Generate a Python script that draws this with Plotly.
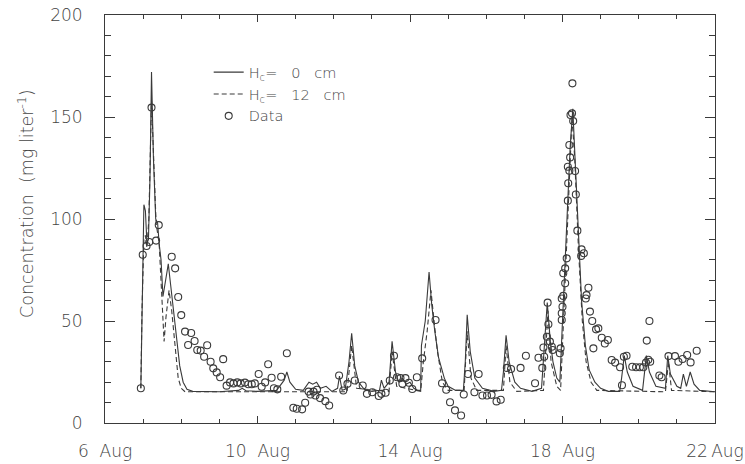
import plotly.graph_objects as go

# ---- model, H_c = 0 cm (solid) ----
solid_day = [6.94, 6.97, 7.02, 7.06, 7.10, 7.14, 7.18, 7.22, 7.27, 7.33, 7.38, 7.42, 7.47, 7.52,
             7.60, 7.66, 7.72, 7.80, 7.88, 7.96, 8.05, 8.15, 8.30, 9.00, 9.50, 9.60, 9.70, 10.0,
             10.5, 10.70, 10.77, 10.85, 11.0, 11.2, 11.35, 11.45, 11.55, 11.65, 11.8, 11.95,
             12.10, 12.15, 12.22, 12.30, 12.40, 12.47, 12.55, 12.65, 12.80, 13.0, 13.2, 13.25,
             13.32, 13.45, 13.53, 13.62, 13.70, 13.80, 13.90, 14.0, 14.1, 14.2, 14.28, 14.30,
             14.40, 14.50, 14.57, 14.65, 14.75, 14.90, 15.0, 15.2, 15.4, 15.45, 15.50, 15.58,
             15.70, 15.90, 16.2, 16.4, 16.45, 16.52, 16.60, 16.75, 16.90, 17.2, 17.45, 17.52,
             17.60, 17.68, 17.75, 17.85, 17.93, 18.0, 18.1, 18.2, 18.27, 18.33, 18.42, 18.5,
             18.6, 18.7, 18.85, 19.0, 19.2, 19.5, 19.55, 19.62, 19.70, 19.85, 20.1, 20.15, 20.2,
             20.28, 20.45, 20.70, 20.76, 20.83, 21.0, 21.1, 21.17, 21.25, 21.35, 21.45, 21.6, 22.0]
solid_val = [17, 60, 107, 104, 88, 90, 120, 172, 130, 100, 98, 88, 80, 62,
             70, 78, 68, 55, 42, 28, 20, 16.5, 15.5, 15.3, 16, 17, 15.8, 15.5,
             16, 21, 25, 20, 16.5, 16, 20, 19, 20, 17, 18, 15.5,
             17, 23, 16, 16.5, 30, 44, 28, 20, 16.5, 15.5, 16, 21,
             17, 20, 40, 25, 20, 22, 19, 20, 17, 16, 16, 38,
             50, 74, 58, 45, 32, 22, 18, 16, 16, 30, 53, 35,
             22, 17, 15.5, 16, 25, 43, 30, 20, 17, 15.5, 17, 35,
             59, 40, 30, 22, 20, 50, 90, 135, 154, 130, 90, 60,
             38, 26, 20, 17, 15.5, 15.5, 22, 33, 25, 18, 16, 25, 33,
             25, 18, 17, 33, 24, 18, 17, 24, 18, 25, 19, 16, 15.3]

# ---- model, H_c = 12 cm (dashed) ----
dashed_day = [6.94, 6.97, 7.02, 7.06, 7.10, 7.15, 7.22, 7.28, 7.34, 7.42, 7.48, 7.55, 7.60, 7.68,
              7.75, 7.85, 7.92, 8.00, 8.10, 12.35, 12.47, 12.60, 13.45, 13.53, 13.65, 14.28,
              14.35, 14.45, 14.55, 14.63, 14.72, 14.85, 15.0, 15.42, 15.50, 15.60, 15.75, 16.45,
              16.52, 16.62, 16.80, 17.50, 17.58, 17.62, 17.70, 17.85, 17.95, 18.05, 18.15, 18.25,
              18.32, 18.42, 18.52, 18.62, 18.75, 18.90, 20.70, 20.78, 20.86, 22.0]
dashed_val = [17, 55, 90, 92, 86, 100, 158, 125, 98, 88, 62, 40, 52, 65,
              55, 35, 22, 17, 15.3, 15.3, 38, 17, 15.5, 35, 18, 15.5,
              30, 45, 65, 50, 35, 20, 16, 16, 45, 22, 16, 16,
              38, 20, 15.5, 16, 40, 55, 30, 18, 16, 60, 110, 150,
              130, 85, 50, 30, 20, 16, 15.3, 30, 16, 15.3]

# ---- observations ----
obs_day = [6.94, 6.99, 7.09, 7.16, 7.22, 7.34, 7.41, 7.75, 7.84, 7.92, 8.00, 8.10, 8.18, 8.26,
           8.35, 8.42, 8.51, 8.60, 8.68, 8.77, 8.84, 8.93, 9.02, 9.10, 9.19, 9.28, 9.37, 9.47,
           9.56, 9.67, 9.76, 9.85, 9.93, 10.03, 10.11, 10.20, 10.28, 10.37, 10.43, 10.52, 10.62,
           10.77, 10.94, 11.03, 11.17, 11.25, 11.34, 11.39, 11.47, 11.52, 11.56, 11.64, 11.78,
           11.88, 12.14, 12.25, 12.36, 12.55, 12.76, 12.87, 13.01, 13.18, 13.25, 13.36, 13.47,
           13.58, 13.66, 13.75, 13.80, 13.88, 13.97, 14.06, 14.18, 14.32, 14.67, 14.84, 14.95,
           15.05, 15.18, 15.34, 15.41, 15.52, 15.69, 15.80, 15.90, 16.02, 16.14, 16.27, 16.38,
           16.54, 16.65, 16.90, 17.04, 17.28, 17.37, 17.47, 17.50, 17.52, 17.59, 17.61, 17.63,
           17.67, 17.72, 17.74, 17.93, 17.95, 17.98, 17.98, 18.00, 17.98, 18.02, 18.07, 18.02,
           18.07, 18.11, 18.14, 18.15, 18.14, 18.18, 18.20, 18.18, 18.21, 18.25, 18.28, 18.26,
           18.33, 18.35, 18.39, 18.49, 18.50, 18.56, 18.61, 18.63, 18.68, 18.72, 18.78, 18.81,
           18.88, 18.94, 19.03, 19.11, 19.19, 19.29, 19.38, 19.51, 19.56, 19.61, 19.68, 19.83,
           19.93, 20.03, 20.12, 20.19, 20.21, 20.25, 20.28, 20.30, 20.54, 20.60, 20.78, 20.95,
           21.04, 21.15, 21.27, 21.36, 21.52]
obs_val = [17, 82.5, 86.8, 88.7, 154.6, 89.4, 97, 81.5, 75.8, 61.8, 52.9, 44.8, 38.2, 44.1,
           40.2, 35.8, 35.5, 32.5, 38.1, 30, 26.8, 24.8, 22.4, 31.3, 18.3, 19.9, 19.4, 19.9,
           19.4, 19.8, 19, 19, 19.4, 24, 17.8, 19.9, 28.8, 22.2, 17, 16.5, 22.7,
           34.2, 7.5, 7, 6.7, 9.9, 15.4, 14, 15.4, 13.5, 16.3, 12.2, 10.7,
           8.6, 23.3, 15.9, 19.2, 20.8, 18.4, 14.3, 15.1, 13.2, 14.3, 14.8, 20.8,
           33, 22.4, 22, 19.2, 22, 19.7, 16.7, 22.4, 31.7, 50.5, 19.5, 16.3,
           10.2, 6.2, 3.7, 14, 24, 15.1, 24, 13.5, 13.5, 13.8, 10.6, 11.4,
           27, 26.5, 27, 33, 19.5, 32, 27, 37, 32.5, 42.3, 59, 48.4,
           39.9, 37.4, 35.8, 34.2, 36.6, 50.5, 53.8, 57, 61, 62.3, 68.5, 73.4,
           75.8, 80.7, 109, 117.5, 125.6, 123.7, 130.2, 136.3, 151, 151.8, 148, 166.5,
           123.5, 112, 94.3, 81.9, 85.1, 83.2, 61, 62.7, 66.3, 54.6, 50, 36.6,
           45.9, 46.4, 41.8, 39, 40.7, 30.9, 29.6, 27.3, 18.5, 32.5, 33, 27.6,
           27.3, 27.3, 27.3, 29.6, 40.4, 31, 50, 30, 23.3, 22.4, 32.8, 32.8,
           30, 31.4, 33.3, 29.7, 35.4]

x_tickvals = [6, 10, 14, 18, 22]
x_ticktext = ["6\u00a0\u00a0Aug", "10\u00a0\u00a0Aug", "14\u00a0\u00a0Aug", "18\u00a0\u00a0Aug", "22\u2009Aug"]
y_tickvals = [0, 50, 100, 150, 200]
series_names = ["H<sub>c</sub>=\u00a0\u00a0\u00a00\u00a0\u00a0\u00a0cm",
                "H<sub>c</sub>=\u00a0\u00a0\u00a012\u00a0\u00a0\u00a0cm",
                "Data"]
y_title = "Concentration\u00a0\u00a0(mg\u00a0liter<sup>-1</sup>)"

INK = "#3a3a3a"
FAMILY = "DejaVu Sans, Liberation Sans, sans-serif"
FONT = dict(family=FAMILY, size=17, color="#444444", weight=200)
LEGEND_FONT = dict(family=FAMILY, size=14.5, color="#444444", weight=200)
TITLE_FONT = dict(family=FAMILY, size=17.5, color="#444444", weight=200)

fig = go.Figure()
fig.add_trace(go.Scatter(x=solid_day, y=solid_val, mode="lines", name=series_names[0],
                         line=dict(color=INK, width=1.1)))
fig.add_trace(go.Scatter(x=dashed_day, y=dashed_val, mode="lines", name=series_names[1],
                         line=dict(color=INK, width=1.1, dash="5px,3px")))
fig.add_trace(go.Scatter(x=obs_day, y=obs_val, mode="markers", name=series_names[2],
                         marker=dict(symbol="circle-open", size=7, color=INK, line=dict(width=1.1, color=INK))))

axis_common = dict(showline=True, linecolor=INK, linewidth=1, mirror="ticks", showgrid=False,
                   zeroline=False, ticks="inside", tickcolor=INK, tickfont=FONT, automargin=False)

fig.update_layout(
    width=745, height=464,
    margin=dict(l=105, r=30, t=15, b=41),
    paper_bgcolor="white", plot_bgcolor="white",
    font=FONT,
    showlegend=True,
    legend=dict(x=0.17, y=0.899, xanchor="left", yanchor="top", bgcolor="rgba(0,0,0,0)",
                font=LEGEND_FONT, tracegroupgap=0, itemwidth=30),
    xaxis=dict(range=[6, 22], tickvals=x_tickvals, ticktext=x_ticktext, ticklen=7, tickwidth=1,
               ticklabelstandoff=13, ticklabeloverflow="allow",
               minor=dict(dtick=1, tick0=6, ticklen=4, ticks="inside", tickcolor=INK, showgrid=False),
               **axis_common),
    yaxis=dict(range=[0, 200], tickvals=y_tickvals, ticklen=10, tickwidth=1, ticklabelstandoff=18,
               minor=dict(dtick=10, tick0=0, ticklen=6, ticks="inside", tickcolor=INK, showgrid=False),
               **axis_common),
    annotations=[dict(text=y_title, textangle=-90, xref="paper", yref="paper",
                      x=-0.1295, y=0.537, xanchor="center", yanchor="middle",
                      showarrow=False, font=TITLE_FONT)],
)

fig.write_html("out.html")
